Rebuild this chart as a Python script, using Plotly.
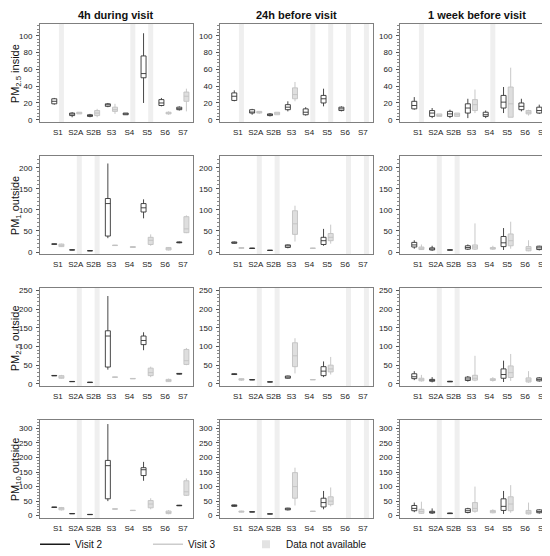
import plotly.graph_objects as go
from plotly.subplots import make_subplots

sites = ["S1", "S2A", "S2B", "S3", "S4", "S5", "S6", "S7"]
periods = ["4h during visit", "24h before visit", "1 week before visit"]
metrics = ["PM<sub>2.5</sub> inside", "PM<sub>1</sub> outside",
           "PM<sub>2.5</sub> outside", "PM<sub>10</sub> outside"]

# each entry: (lower whisker, q1, median, q3, upper whisker), None = data not available
# PM2.5 inside
in_4h_v2 = [(18, 19, 22, 25, 26), (3, 5, 7, 8, 9), (3, 4, 5, 6, 7), (15, 16, 18, 19, 20),
            (6, 6, 7, 8, 8), (20, 50, 55, 76, 103), (16, 17, 20, 24, 26), (11, 12, 13, 15, 16)]
in_4h_v3 = [None, (7, 7, 8, 9, 9), (3, 5, 8, 11, 13), (7, 10, 12, 15, 19),
            None, None, (6, 7, 8, 9, 10), (10, 22, 28, 33, 37)]
in_24h_v2 = [(22, 23, 28, 32, 35), (6, 8, 9, 12, 13), (4, 5, 6, 7, 8), (10, 12, 15, 18, 22),
             (5, 6, 9, 13, 15), (16, 20, 25, 29, 37), (10, 11, 13, 15, 16), None]
in_24h_v3 = [None, (7, 8, 9, 10, 10), (6, 6, 8, 9, 9), (22, 25, 30, 38, 45),
             None, None, None, None]
in_1w_v2 = [(12, 13, 17, 22, 27), (2, 4, 8, 11, 14), (2, 4, 7, 10, 12), (2, 8, 14, 19, 25),
            (2, 4, 6, 9, 11), (8, 14, 21, 29, 39), (10, 12, 16, 20, 25), (7, 8, 11, 15, 18)]
in_1w_v3 = [None, (4, 4, 5, 7, 7), (4, 4, 6, 8, 8), (8, 11, 18, 24, 36),
            None, (3, 3, 19, 39, 62), (5, 7, 9, 11, 12), (5, 7, 9, 11, 12)]

# PM1 outside
pm1_4h_v2 = [(18, 18.5, 19, 19.5, 20), (4.5, 5, 5, 5.5, 6), (2.5, 3, 3, 3.5, 4), (33, 38, 115, 127, 210),
             None, (80, 95, 105, 115, 125), None, (21, 22, 23, 24, 25)]
pm1_4h_v3 = [(12, 13, 16, 19, 20), None, None, (15, 15.5, 16, 16.5, 17),
             (10, 11, 12, 13, 13), (15, 18, 28, 35, 42), (4, 5, 8, 11, 12), (45, 46, 55, 84, 87)]
pm1_24h_v2 = [(20, 21, 22, 24, 25), (8, 8.5, 9, 9.5, 10), (3.5, 4, 4, 4.5, 5), (9, 11, 15, 17, 18),
              None, (15, 18, 27, 35, 55), None, None]
pm1_24h_v3 = [(8, 9, 10, 10.5, 11), None, None, (25, 42, 67, 98, 110),
              (8.5, 9, 9, 9.5, 10), (20, 27, 35, 44, 65), None, None]
pm1_1w_v2 = [(8, 12, 17, 23, 28), (3, 5, 7, 10, 15), (4, 4.5, 5, 5.5, 6), (5, 7, 11, 15, 18),
             None, (5, 13, 22, 37, 57), None, (4, 6, 10, 14, 15)]
pm1_1w_v3 = [(5, 6, 9, 12, 18), None, None, (5, 7, 12, 17, 68),
             (5, 7, 9, 11, 15), (8, 15, 27, 43, 72), (2, 3, 8, 13, 28), (7, 7.5, 8, 8.5, 9)]

# PM2.5 outside
pm25_4h_v2 = [(21, 21.5, 22, 22.5, 23), (5.5, 6, 6, 6.5, 7), (3, 3.5, 4, 4.5, 5), (38, 45, 128, 142, 235),
              None, (90, 105, 116, 128, 138), None, (25, 26, 27, 28, 29)]
pm25_4h_v3 = [(14, 15, 18, 22, 24), None, None, (17, 17.5, 18, 18.5, 19),
              (13, 13.5, 14, 14.5, 15), (18, 22, 30, 42, 46), (5, 6, 9, 12, 14), (50, 52, 62, 92, 96)]
pm25_24h_v2 = [(24, 25, 26, 27, 28), (10, 10.5, 11, 11.5, 12), (4.5, 5, 5, 5.5, 6), (14, 15, 18, 21, 22),
               None, (18, 22, 34, 46, 60), None, None]
pm25_24h_v3 = [(8, 10, 12, 14, 15), None, None, (28, 46, 75, 110, 122),
               (10.5, 11, 11, 11.5, 12), (25, 32, 40, 50, 72), None, None]
pm25_1w_v2 = [(10, 14, 19, 27, 34), (4, 7, 9, 12, 18), (5, 5.5, 6, 7, 8), (6, 9, 13, 18, 21),
              None, (5, 15, 25, 40, 62), None, (6, 8, 12, 16, 18)]
pm25_1w_v3 = [(6, 8, 11, 15, 24), None, None, (7, 10, 15, 23, 75),
              (6, 9, 11, 14, 18), (8, 17, 30, 48, 80), (3, 5, 10, 16, 34), (10, 11, 12, 13, 14)]

# PM10 outside
pm10_4h_v2 = [(28, 28.5, 29, 29.5, 30), (6, 6.5, 7, 7.5, 8), (3, 3.5, 4, 4.5, 5), (50, 58, 172, 190, 315),
              None, (120, 138, 158, 165, 185), None, (33, 34, 35, 36, 37)]
pm10_4h_v3 = [(18, 20, 24, 28, 30), None, None, (22, 22.5, 23, 23.5, 24),
              (17, 17.5, 18, 18.5, 19), (22, 27, 40, 52, 60), (5, 7, 11, 16, 19), (68, 70, 82, 120, 128)]
pm10_24h_v2 = [(30, 32, 35, 37, 38), (12, 12.5, 13, 13.5, 14), (5, 5.5, 6, 6.5, 7), (18, 20, 23, 26, 27),
               None, (22, 30, 45, 60, 85), None, None]
pm10_24h_v3 = [(11, 12, 14, 16, 17), None, None, (35, 60, 100, 148, 165),
               (14, 14.5, 15, 15.5, 16), (32, 38, 50, 65, 97), None, None]
pm10_1w_v2 = [(12, 17, 25, 35, 45), (6, 9, 11, 15, 25), (6, 7, 8, 9, 10), (8, 11, 17, 24, 27),
              None, (6, 18, 32, 58, 85), None, (7, 10, 14, 20, 22)]
pm10_1w_v3 = [(6, 8, 14, 22, 48), None, None, (10, 15, 25, 45, 100),
              (8, 10, 14, 18, 22), (10, 17, 40, 65, 105), (4, 6, 12, 18, 45), (12, 13, 15, 17, 18)]

panels = [
    [(in_4h_v2, in_4h_v3), (in_24h_v2, in_24h_v3), (in_1w_v2, in_1w_v3)],
    [(pm1_4h_v2, pm1_4h_v3), (pm1_24h_v2, pm1_24h_v3), (pm1_1w_v2, pm1_1w_v3)],
    [(pm25_4h_v2, pm25_4h_v3), (pm25_24h_v2, pm25_24h_v3), (pm25_1w_v2, pm25_1w_v3)],
    [(pm10_4h_v2, pm10_4h_v3), (pm10_24h_v2, pm10_24h_v3), (pm10_1w_v2, pm10_1w_v3)],
]
y_ranges = [[-3, 114], [-5, 228], [-6, 257], [-8, 330]]
y_dticks = [20, 50, 50, 50]

FONT = "Arial, Liberation Sans, sans-serif"
visit_style = [
    dict(name="Visit 2", offset=-0.2, line="#333333", fill="white"),
    dict(name="Visit 3", offset=0.2, line="#c2c2c2", fill="#dedede"),
]
NA_COLOR = "#efefef"

fig = make_subplots(rows=4, cols=3, horizontal_spacing=0.0526, vertical_spacing=0.068)

for r in range(4):
    for c in range(3):
        for v, style in enumerate(visit_style):
            series = panels[r][c][v]
            xs, stats = [], []
            for i, s in enumerate(series):
                pos = i + style["offset"]
                if s is None:
                    fig.add_vrect(x0=pos - 0.14, x1=pos + 0.14, fillcolor=NA_COLOR,
                                  line_width=0, layer="below", row=r + 1, col=c + 1)
                else:
                    xs.append(pos)
                    stats.append(s)
            fig.add_trace(go.Box(
                x=xs,
                lowerfence=[s[0] for s in stats],
                q1=[s[1] for s in stats],
                median=[s[2] for s in stats],
                q3=[s[3] for s in stats],
                upperfence=[s[4] for s in stats],
                width=0.28, whiskerwidth=0,
                line=dict(color=style["line"], width=0.9),
                fillcolor=style["fill"],
                showlegend=False, hoverinfo="skip",
            ), row=r + 1, col=c + 1)
        fig.update_xaxes(range=[-1.0, 7.57], tickvals=list(range(len(sites))), ticktext=sites,
                         tickangle=0, automargin=False, ticklabelstandoff=2,
                         showgrid=False, zeroline=False, ticks="",
                         showline=True, mirror=True, linecolor="#7f7f7f", linewidth=1,
                         tickfont=dict(size=8, color="#1a1a1a"),
                         row=r + 1, col=c + 1)
        fig.update_yaxes(range=y_ranges[r], dtick=y_dticks[r], showgrid=False, zeroline=False,
                         automargin=False, ticklabelstandoff=2,
                         ticks="outside", ticklen=3, tickcolor="#555",
                         minor=dict(ticks="outside", ticklen=2, dtick=y_dticks[r] / 5, tickcolor="#888"),
                         showline=True, mirror=True, linecolor="#7f7f7f", linewidth=1,
                         tickfont=dict(size=8, color="#1a1a1a"),
                         row=r + 1, col=c + 1)

# legend entries, each in its own legend box so they can be spaced like the reference
fig.add_trace(go.Scatter(x=[None], y=[None], mode="lines", name="Visit 2", legend="legend",
                         line=dict(color="#1a1a1a", width=1.5)))
fig.add_trace(go.Scatter(x=[None], y=[None], mode="lines", name="Visit 3", legend="legend2",
                         line=dict(color="#cccccc", width=1.5)))
fig.add_trace(go.Scatter(x=[None], y=[None], mode="markers", name="Data not available",
                         legend="legend3", marker=dict(symbol="square", size=8, color="#e3e3e3")))

annotations = []
col_x = [0.1491, 0.5, 0.8509]
for c, title in enumerate(periods):
    annotations.append(dict(text="<b>%s</b>" % title, x=col_x[c], y=1.0, xref="paper", yref="paper",
                            xanchor="center", yanchor="bottom", yshift=1, showarrow=False,
                            font=dict(size=11, color="#111")))
row_y = [0.8994, 0.6322, 0.3649, 0.0996]
for r, label in enumerate(metrics):
    annotations.append(dict(text=label, x=-0.0478, y=row_y[r], xref="paper", yref="paper",
                            xanchor="center", yanchor="middle", textangle=-90, showarrow=False,
                            font=dict(size=11, color="#111")))

legend_common = dict(orientation="h", y=-0.053, xanchor="left", yanchor="middle",
                     font=dict(size=10), bgcolor="rgba(0,0,0,0)")
fig.update_layout(
    width=550, height=556,
    margin=dict(l=32, r=5, t=16, b=33),
    paper_bgcolor="white", plot_bgcolor="white",
    boxmode="overlay",
    font=dict(family=FONT, color="#111"),
    annotations=annotations,
    legend=dict(x=-0.0097, **legend_common),
    legend2=dict(x=0.2105, **legend_common),
    legend3=dict(x=0.4016, **legend_common),
)

fig.write_html("out.html")
